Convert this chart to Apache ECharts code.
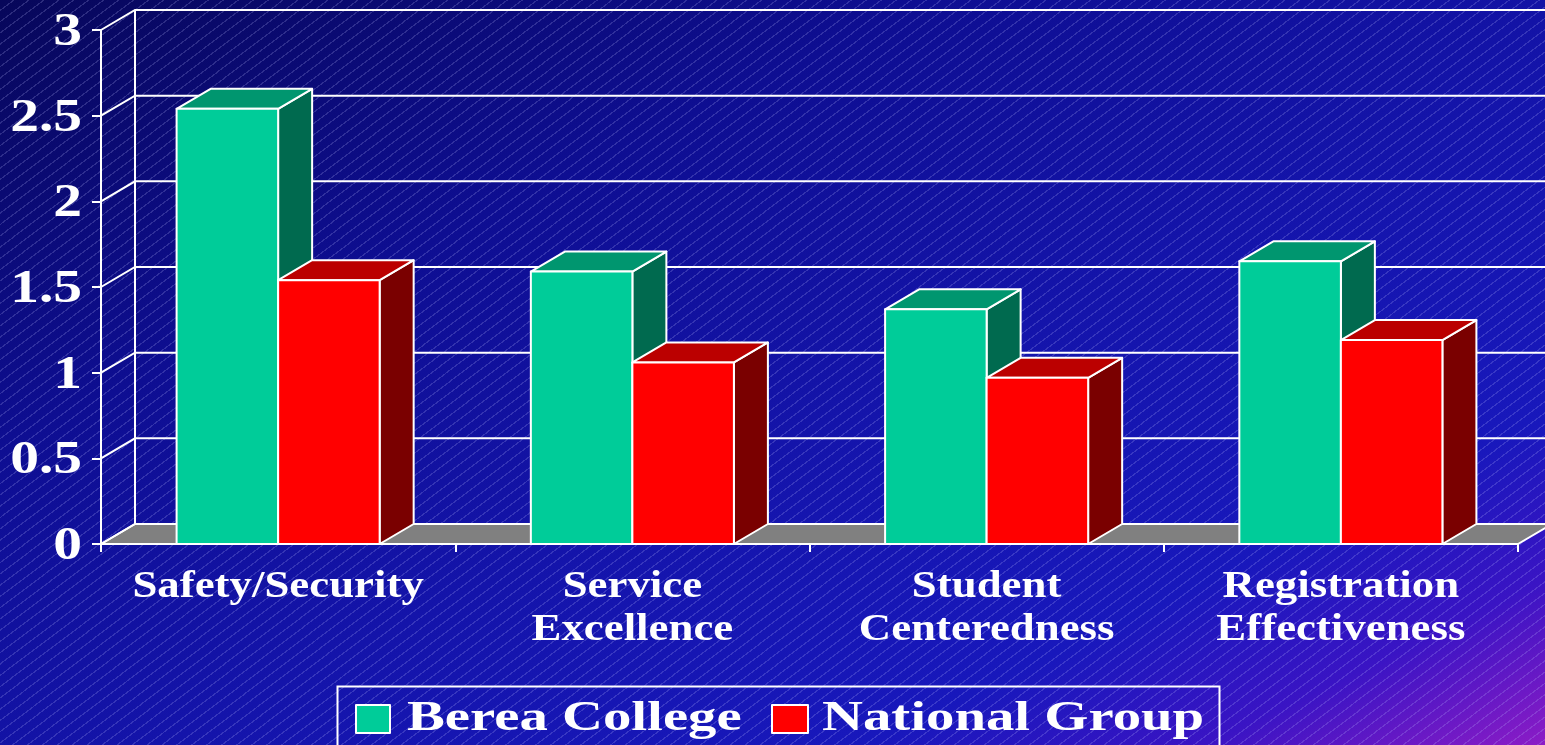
<!DOCTYPE html>
<html>
<head>
<meta charset="utf-8">
<title>Berea College vs National Group</title>
<script src="https://cdn.jsdelivr.net/npm/echarts@6/dist/echarts.min.js"></script>
<style>
  html, body { margin: 0; padding: 0; }
  body {
    width: 1545px; height: 745px; overflow: hidden;
    background:
      repeating-linear-gradient(143deg, rgba(255,255,255,0) 0px, rgba(255,255,255,0) 7.8px, rgba(190,190,255,0.2) 7.8px, rgba(190,190,255,0.2) 9px),
      linear-gradient(to bottom right, #07075a 0%, #0e0e92 30%, #1414aa 55%, #1818bc 78%, #3a14c4 89%, #8c1cc6 100%);
  }
  #main { width: 1545px; height: 745px; }
</style>
</head>
<body>
<div id="main"></div>
<script>
// data
var categories = ['Safety/Security', 'Service\nExcellence', 'Student\nCenteredness', 'Registration\nEffectiveness']
var berea = [2.54, 1.59, 1.37, 1.65]
var national = [1.54, 1.06, 0.97, 1.19]
var seriesNames = ['Berea College', 'National Group']
var yTicks = [0, 0.5, 1, 1.5, 2, 2.5, 3]
var yLabels = ['0', '0.5', '1', '1.5', '2', '2.5', '3']

// look
var DX = 34, DY = -20          // depth of the 3d box
var BAR_RATIO = 0.2866         // bar width / category band
var FONT = '"Liberation Serif", "Times New Roman", serif'
var greens = { front: '#00cc99', top: '#00966f', side: '#006a4f' }
var reds = { front: '#ff0000', top: '#bb0000', side: '#7a0000' }
var edge = { stroke: '#ffffff', lineWidth: 2, lineJoin: 'round' }

function st (fill) {
  return Object.assign({ fill: fill }, edge)
}

// back wall, side wall lines, floor and value labels
function renderFrame (params, api) {
  var cs = params.coordSys
  var xL = cs.x, xR = cs.x + cs.width
  var y0 = api.coord([0, 0])[1]
  var yT = api.coord([0, yTicks[yTicks.length - 1]])[1]
  var kids = []
  kids.push({ type: 'polygon', shape: { points: [[xL, y0], [xR, y0], [xR + DX, y0 + DY], [xL + DX, y0 + DY]] }, style: st('#808080') })
  kids.push({ type: 'line', shape: { x1: xL + DX, y1: yT + DY, x2: xL + DX, y2: y0 + DY }, style: { stroke: '#fff', lineWidth: 2 } })
  yTicks.forEach(function (v, i) {
    var y = api.coord([0, v])[1]
    kids.push({ type: 'polyline', shape: { points: [[xL, y], [xL + DX, y + DY], [xR + DX + 40, y + DY]] }, style: { stroke: '#fff', lineWidth: 2, fill: null } })
    kids.push({
      type: 'text', x: xL - 19, y: y + 3, scaleX: 1.25,
      style: { text: yLabels[i], fill: '#fff', fontSize: 46, fontWeight: 'bold', fontFamily: FONT, align: 'right', verticalAlign: 'middle' }
    })
  })
  return { type: 'group', children: kids }
}

function barRenderer (left, c) {
  return function (params, api) {
    var i = api.value(0)
    var base = api.coord([i, 0])
    var tip = api.coord([i, api.value(1)])
    var bw = api.size([1, 0])[0] * BAR_RATIO
    var x0 = left ? base[0] - bw : base[0]
    var x1 = x0 + bw, yb = base[1], yt = tip[1]
    return {
      type: 'group',
      children: [
        { type: 'polygon', shape: { points: [[x1, yb], [x1 + DX, yb + DY], [x1 + DX, yt + DY], [x1, yt]] }, style: st(c.side) },
        { type: 'polygon', shape: { points: [[x0, yt], [x1, yt], [x1 + DX, yt + DY], [x0 + DX, yt + DY]] }, style: st(c.top) },
        { type: 'rect', shape: { x: x0, y: yt, width: bw, height: yb - yt }, style: st(c.front) }
      ]
    }
  }
}

function renderCatLabel (params, api) {
  var i = api.value(0)
  var p = api.coord([i, 0])
  return {
    type: 'text', x: p[0], y: p[1] + 22, scaleX: 1.18,
    style: { text: categories[i], fill: '#fff', fontSize: 38, fontWeight: 'bold', fontFamily: FONT, align: 'center', verticalAlign: 'top', lineHeight: 43 }
  }
}

var chart = echarts.init(document.getElementById('main'), null, { renderer: 'canvas' })

chart.setOption({
  backgroundColor: 'transparent',
  animation: false,
  grid: { left: 101, right: 27, top: 30, bottom: 201, containLabel: false, outerBoundsMode: 'none' },
  xAxis: {
    type: 'category',
    data: categories,
    axisLine: { show: true, lineStyle: { color: '#fff', width: 2 } },
    axisTick: { show: true, length: 8, lineStyle: { color: '#fff', width: 2 } },
    axisLabel: { show: false },
    splitLine: { show: false }
  },
  yAxis: {
    type: 'value',
    min: 0,
    max: 3,
    interval: 0.5,
    axisLine: { show: true, lineStyle: { color: '#fff', width: 2 } },
    axisTick: { show: true, length: 9, lineStyle: { color: '#fff', width: 2 } },
    axisLabel: { show: false },
    splitLine: { show: false }
  },
  series: [
    { type: 'custom', name: 'frame', z: 1, silent: true, data: [[0, 0]], encode: { x: 0, y: 1 }, renderItem: renderFrame },
    { type: 'custom', name: seriesNames[0], z: 3, data: berea.map(function (v, i) { return [i, v] }), encode: { x: 0, y: 1 }, renderItem: barRenderer(true, greens) },
    { type: 'custom', name: seriesNames[1], z: 4, data: national.map(function (v, i) { return [i, v] }), encode: { x: 0, y: 1 }, renderItem: barRenderer(false, reds) },
    { type: 'custom', name: 'labels', z: 5, silent: true, data: categories.map(function (c, i) { return [i, 0] }), encode: { x: 0, y: 1 }, renderItem: renderCatLabel }
  ],
  graphic: [
    { type: 'rect', left: 335, top: 684, shape: { width: 882, height: 90 }, style: { fill: null, stroke: '#fff', lineWidth: 2 } },
    { type: 'rect', left: 355, top: 704, shape: { width: 34, height: 28 }, style: st(greens.front) },
    { type: 'text', x: 407, y: 719, scaleX: 1.32, style: { text: seriesNames[0], fill: '#fff', fontSize: 43, fontWeight: 'bold', fontFamily: FONT, verticalAlign: 'middle' } },
    { type: 'rect', left: 771, top: 704, shape: { width: 36, height: 28 }, style: st(reds.front) },
    { type: 'text', x: 822, y: 719, scaleX: 1.32, style: { text: seriesNames[1], fill: '#fff', fontSize: 43, fontWeight: 'bold', fontFamily: FONT, verticalAlign: 'middle' } }
  ]
})
</script>
</body>
</html>
